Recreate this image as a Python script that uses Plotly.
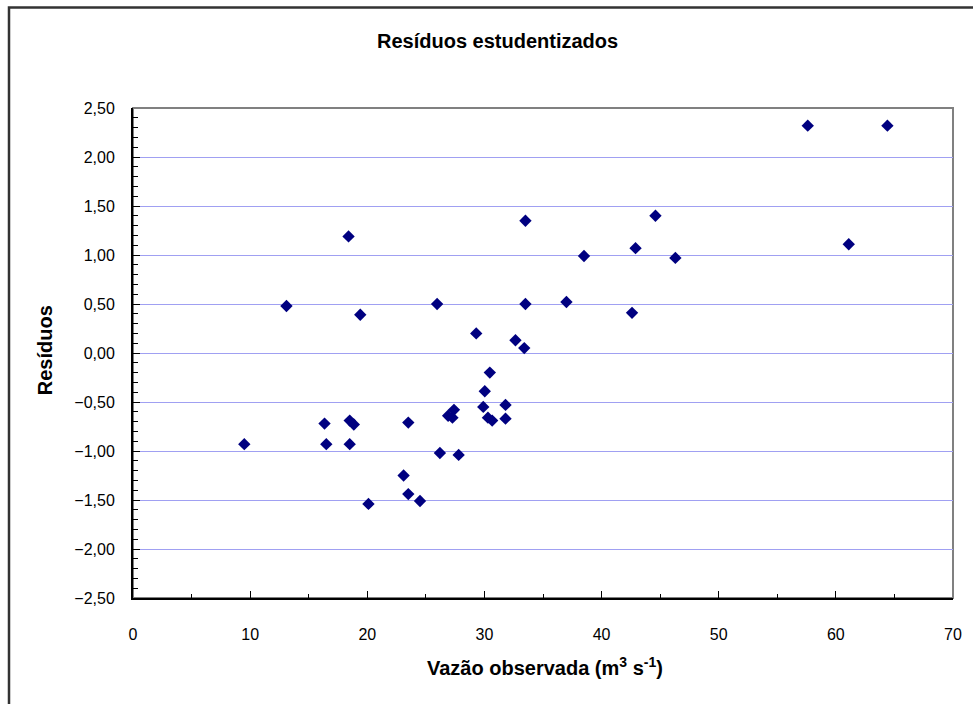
import plotly.graph_objects as go

vazao = [9.5, 13.1, 16.35, 16.5, 18.4, 18.5, 18.85, 18.5, 19.4, 20.1,
         23.1, 23.5, 23.5, 24.5, 25.96, 26.2, 26.9, 27.27, 27.4, 27.8,
         29.3, 29.9, 30.03, 30.3, 30.66, 30.46, 31.8, 31.8, 32.65, 33.4,
         33.5, 33.5, 37.0, 38.5, 42.6, 42.9, 44.6, 46.3, 57.6, 61.1, 64.4]
residuos = [-0.93, 0.48, -0.72, -0.93, 1.19, -0.69, -0.73, -0.93, 0.39, -1.54,
            -1.25, -0.71, -1.44, -1.51, 0.50, -1.02, -0.64, -0.66, -0.58, -1.04,
            0.20, -0.55, -0.39, -0.66, -0.69, -0.20, -0.53, -0.67, 0.13, 0.05,
            1.35, 0.50, 0.52, 0.99, 0.41, 1.07, 1.40, 0.97, 2.32, 1.11, 2.32]

title_text = "Resíduos estudentizados"
x_title = "Vazão observada (m<sup>3</sup> s<sup>-1</sup>)"
y_title = "Resíduos"

FONT = "Liberation Sans, Arial, sans-serif"

fig = go.Figure()
fig.add_trace(go.Scatter(
    x=vazao, y=residuos, mode="markers",
    marker=dict(symbol="diamond", size=9.5, color="#000080",
                line=dict(width=0)),
    showlegend=False, hoverinfo="x+y"))

L, R, T, B = 133, 20, 107.5, 106
W, H = 973, 704
pw = W - L - R
ph = H - T - B

fig.update_layout(
    width=W, height=H,
    margin=dict(l=L, r=R, t=T, b=B),
    paper_bgcolor="white", plot_bgcolor="white",
    separators=",.",
    font=dict(family=FONT, size=16, color="black"),
    showlegend=False,
)

fig.update_xaxes(
    range=[0, 70], dtick=10, tick0=0,
    showgrid=False, zeroline=False,
    showline=True, linecolor="black", linewidth=2,
    ticks="inside", ticklen=7, tickwidth=1, tickcolor="black",
    minor=dict(dtick=5, ticks="inside", ticklen=4, tickcolor="black", tickwidth=1, showgrid=False),
    ticklabelstandoff=21,
    tickfont=dict(family=FONT, size=16),
)
fig.update_yaxes(
    range=[-2.5, 2.5], dtick=0.5, tick0=0, tickformat=".2f",
    showgrid=True, gridcolor="#A0A0F2", gridwidth=1,
    zeroline=False,
    showline=True, linecolor="black", linewidth=2,
    ticks="inside", ticklen=7, tickwidth=1, tickcolor="black",
    minor=dict(dtick=0.1, ticks="inside", ticklen=5, tickcolor="black", tickwidth=1, showgrid=False),
    ticklabelstandoff=13,
    tickfont=dict(family=FONT, size=16),
)

# plot area border (top/right gray)
fig.add_shape(type="rect", xref="paper", yref="paper", x0=0, x1=1, y0=0, y1=1,
              line=dict(color="#808080", width=2), layer="below")
# outer chart frame
fig.add_shape(type="rect", xref="paper", yref="paper",
              x0=(9 - L) / pw, x1=(W + 20 - L) / pw,
              y0=-(H + 20 - (H - B)) / ph, y1=(H - B - 7) / ph,
              line=dict(color="#333333", width=2.5), layer="below")

fig.add_annotation(text="<b>" + title_text + "</b>", xref="paper", yref="paper",
                   x=(497 - L) / pw, y=(H - B - 40) / ph, showarrow=False,
                   font=dict(family=FONT, size=20), xanchor="center", yanchor="middle")
fig.add_annotation(text="<b>" + x_title + "</b>", xref="paper", yref="paper",
                   x=(545 - L) / pw, y=(H - B - 667) / ph, showarrow=False,
                   font=dict(family=FONT, size=20), xanchor="center", yanchor="middle")
fig.add_annotation(text="<b>" + y_title + "</b>", xref="paper", yref="paper",
                   x=(45 - L) / pw, y=(H - B - 350) / ph, showarrow=False, textangle=-90,
                   font=dict(family=FONT, size=20), xanchor="center", yanchor="middle")

fig.write_html("out.html", config={"displayModeBar": False},
               post_script="document.body.style.margin='0';")
